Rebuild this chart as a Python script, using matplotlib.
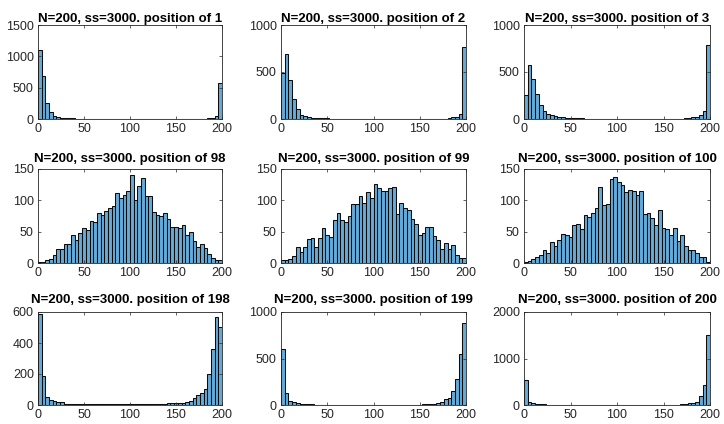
import numpy as np
import matplotlib
matplotlib.use("Agg")
import matplotlib.pyplot as plt

plt.rcParams['font.family'] = ['Liberation Sans', 'DejaVu Sans']

# ---- data (counts per bin, bin width 4 over 0..200) ----
positions = [1, 2, 3, 98, 99, 100, 198, 199, 200]

pos1 = [1095, 690, 263, 116, 55, 32, 21, 18, 10, 8, 5, 4, 3, 3, 2, 2, 2, 1, 2, 1,
        1, 2, 1, 1, 1, 1, 1, 2, 1, 1, 1, 2, 1, 1, 1, 2, 1, 2, 2, 2,
        2, 3, 3, 4, 5, 7, 10, 22, 40, 580]
pos2 = [488, 689, 410, 212, 106, 46, 35, 21, 14, 14, 10, 8, 6, 5, 4, 4, 3, 3, 2, 2,
        3, 2, 2, 2, 2, 2, 2, 2, 2, 2, 3, 2, 2, 3, 2, 2, 2, 2, 3, 2,
        3, 3, 3, 4, 5, 8, 21, 21, 57, 770]
pos3 = [260, 572, 428, 270, 147, 88, 53, 42, 28, 22, 18, 14, 10, 8, 7, 12, 5, 5, 4, 4,
        3, 3, 3, 3, 3, 3, 2, 3, 3, 2, 3, 3, 2, 3, 3, 2, 2, 3, 3, 2,
        3, 4, 5, 8, 12, 18, 22, 45, 85, 790]
pos98 = [2, 1, 4, 7, 12, 22, 22, 30, 30, 45, 36, 48, 56, 53, 67, 66, 80, 77, 83, 88,
         91, 112, 103, 108, 115, 140, 100, 123, 135, 107, 107, 82, 77, 75, 80, 70, 58, 57, 56, 60,
         44, 50, 35, 26, 30, 24, 15, 8, 5, 5]
pos99 = [4, 4, 6, 11, 25, 18, 26, 38, 40, 25, 40, 56, 44, 42, 68, 79, 69, 66, 75, 94,
         94, 107, 96, 113, 103, 126, 120, 115, 115, 119, 121, 78, 96, 87, 84, 70, 62, 45, 48, 58,
         57, 43, 36, 23, 32, 23, 28, 12, 8, 8]
pos100 = [1, 3, 6, 10, 12, 21, 16, 34, 27, 37, 46, 45, 41, 61, 62, 54, 76, 73, 79, 88,
          121, 93, 94, 134, 137, 129, 125, 113, 117, 115, 108, 115, 78, 80, 72, 61, 84, 56, 54, 45,
          56, 35, 45, 27, 20, 20, 16, 10, 9, 2]
pos198 = [585, 186, 50, 32, 24, 22, 20, 8, 6, 7, 5, 5, 4, 6, 5, 4, 4, 5, 6, 4,
          5, 4, 5, 4, 5, 6, 5, 5, 6, 7, 6, 8, 7, 7, 8, 10, 10, 11, 12, 14,
          18, 28, 42, 62, 78, 105, 200, 360, 565, 505]
pos199 = [605, 132, 46, 28, 18, 15, 12, 8, 6, 5, 4, 4, 3, 3, 3, 2, 3, 2, 2, 3,
          2, 2, 3, 2, 2, 2, 3, 2, 2, 3, 2, 3, 3, 3, 4, 4, 4, 5, 6, 8,
          10, 15, 20, 35, 60, 80, 150, 275, 550, 885]
pos200 = [532, 70, 35, 20, 18, 12, 8, 6, 5, 4, 3, 3, 3, 2, 2, 2, 2, 2, 1, 1,
          1, 2, 1, 1, 1, 1, 1, 1, 2, 1, 1, 1, 2, 1, 2, 2, 2, 2, 3, 4,
          6, 10, 15, 25, 35, 48, 72, 185, 440, 1500]

counts_all = [pos1, pos2, pos3, pos98, pos99, pos100, pos198, pos199, pos200]
ylims = [1500, 1000, 1000, 150, 150, 150, 600, 1000, 2000]
yticks_all = [[0, 500, 1000, 1500], [0, 500, 1000], [0, 500, 1000],
              [0, 50, 100, 150], [0, 50, 100, 150], [0, 50, 100, 150],
              [0, 200, 400, 600], [0, 500, 1000], [0, 1000, 2000]]
xticks = [0, 50, 100, 150, 200]

# ---- layout (pixels) ----
W, H = 724, 424
lefts = [38, 281, 524]
widths = [184, 185, 186]
tops = [25, 169, 312]
heights = [94, 94, 93]
title_pads = [2.5, 5.0, 6.5]

fig = plt.figure(figsize=(W / 100, H / 100), dpi=100)
face = (0.4, 0.668, 0.845)
edge = (0.05, 0.05, 0.05)
axcol = (0.15, 0.15, 0.15)
edges = np.arange(0, 201, 4)

for i, counts in enumerate(counts_all):
    r, c = divmod(i, 3)
    ax = fig.add_axes([lefts[c] / W, 1 - (tops[r] + heights[r]) / H,
                       widths[c] / W, heights[r] / H])
    ax.bar(edges[:-1], counts, width=4, align='edge', color=face,
           edgecolor=edge, linewidth=0.75)
    ax.set_xlim(0, 200)
    ax.set_ylim(0, ylims[i])
    ax.set_xticks(xticks)
    ax.set_yticks(yticks_all[i])
    ax.tick_params(direction='in', length=2.5, width=0.5, top=True, right=True,
                   labelsize=9, colors=axcol, pad=3)
    for s in ax.spines.values():
        s.set_linewidth(0.6)
        s.set_color(axcol)
    ax.set_title(f"N=200, ss=3000. position of {positions[i]}",
                 fontsize=9.5, fontweight='bold', pad=title_pads[r])

fig.savefig("out.png", dpi=100)
